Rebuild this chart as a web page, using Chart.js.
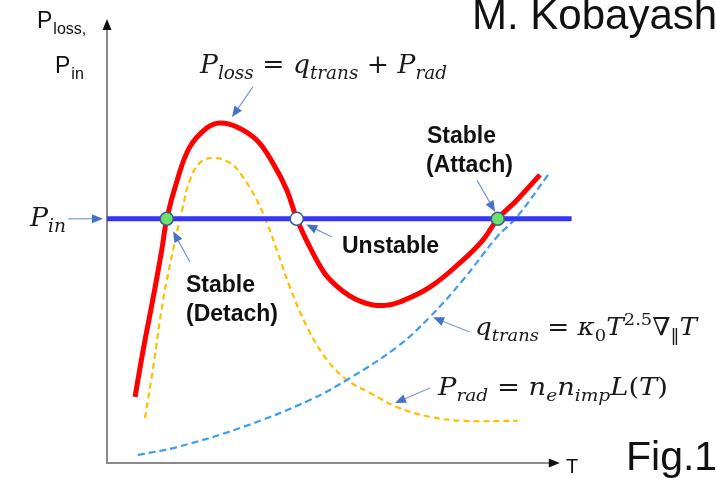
<!DOCTYPE html>
<html>
<head>
<meta charset="utf-8">
<title>P_loss vs T</title>
<script src="https://cdn.jsdelivr.net/npm/chart.js"></script>
<style>
  html, body { margin: 0; padding: 0; background: #fff; }
  #c { display: block; }
</style>
</head>
<body>
<canvas id="c" width="717" height="478"></canvas>
<script>
// Values (T and P in arbitrary units, axes go 0..10)
const lossT = [0.62, 0.80, 1.01, 1.21, 1.32, 1.55, 1.83, 2.21, 2.49, 2.87, 3.31, 3.66, 3.97, 4.19, 4.48, 4.80, 5.08, 5.35, 5.60, 5.87, 6.15, 6.45, 7.13, 7.86, 8.30, 8.63, 9.05, 9.56];
const lossP = [1.49, 2.55, 3.67, 4.80, 5.50, 6.37, 7.12, 7.55, 7.66, 7.57, 7.27, 6.76, 6.15, 5.50, 4.86, 4.28, 3.98, 3.77, 3.64, 3.56, 3.55, 3.62, 3.96, 4.57, 5.02, 5.50, 5.92, 6.49];

const radT = [0.84, 1.02, 1.24, 1.46, 1.66, 1.83, 2.05, 2.34, 2.72, 3.00, 3.31, 3.53, 3.75, 4.04, 4.42, 4.86, 5.30, 5.81, 6.40, 7.13, 7.86, 9.07];
const radP = [1.01, 2.16, 3.67, 4.80, 5.70, 6.37, 6.76, 6.87, 6.76, 6.44, 5.92, 5.41, 4.80, 3.96, 3.06, 2.32, 1.87, 1.58, 1.26, 1.04, 0.95, 0.95];

const transT = [0.68, 1.55, 3.00, 4.48, 5.36, 6.40, 7.13, 7.86, 8.61, 9.05, 9.74];
const transP = [0.18, 0.36, 0.81, 1.42, 1.91, 2.61, 3.29, 4.12, 5.09, 5.54, 6.49];

const PIN = 5.5;
const pinT = [0, 10.26];

// crossing points of P_loss with P_in: stable (detach), unstable, stable (attach)
const crossT = [1.32, 4.19, 8.63];
const crossKind = ['stable', 'unstable', 'stable'];

const pts = (xs, ys) => xs.map((x, i) => ({ x, y: ys[i] }));

// math text helper: runs of {t, s: 'sub'|'sup', up: upright}
function mathText(ctx, runs, x, y, size, width) {
  const fam = '"DejaVu Serif", serif';
  const font = r => (r.up ? '' : 'italic ') + (r.s ? Math.round(size * 0.68) : size) + 'px ' + fam;
  let w = 0;
  runs.forEach(r => { ctx.font = font(r); w += ctx.measureText(r.t).width; });
  const sx = width ? width / w : 1;
  ctx.save();
  ctx.translate(x, y);
  ctx.scale(sx, 1);
  ctx.fillStyle = '#1a1a1a';
  ctx.textBaseline = 'alphabetic';
  let cx = 0;
  runs.forEach(r => {
    ctx.font = font(r);
    const dy = r.s === 'sub' ? size * 0.22 : r.s === 'sup' ? -size * 0.42 : 0;
    ctx.fillText(r.t, cx, dy);
    cx += ctx.measureText(r.t).width;
  });
  ctx.restore();
}

function arrow(ctx, x1, y1, x2, y2) {
  const a = Math.atan2(y2 - y1, x2 - x1);
  const len = 11, half = 4.5;
  ctx.save();
  ctx.strokeStyle = '#7b98d6';
  ctx.lineWidth = 1.2;
  ctx.beginPath();
  ctx.moveTo(x1, y1);
  ctx.lineTo(x2 - Math.cos(a) * len, y2 - Math.sin(a) * len);
  ctx.stroke();
  ctx.fillStyle = '#4472c4';
  ctx.beginPath();
  ctx.moveTo(x2, y2);
  ctx.lineTo(x2 - Math.cos(a) * len - Math.sin(a) * half, y2 - Math.sin(a) * len + Math.cos(a) * half);
  ctx.lineTo(x2 - Math.cos(a) * len + Math.sin(a) * half, y2 - Math.sin(a) * len - Math.cos(a) * half);
  ctx.closePath();
  ctx.fill();
  ctx.restore();
}

// gray axes with black arrow heads
const axesPlugin = {
  id: 'axes',
  beforeDatasetsDraw(chart) {
    const { ctx, scales: { x, y } } = chart;
    const x0 = x.getPixelForValue(0), y0 = y.getPixelForValue(0);
    const yTop = y.getPixelForValue(10), xEnd = x.getPixelForValue(10);
    ctx.save();
    ctx.strokeStyle = '#8a8a8a';
    ctx.lineWidth = 2;
    ctx.beginPath();
    ctx.moveTo(x0, y0); ctx.lineTo(x0, yTop + 8);
    ctx.moveTo(x0 - 1, y0); ctx.lineTo(xEnd - 8, y0);
    ctx.stroke();
    ctx.fillStyle = '#111';
    ctx.beginPath();
    ctx.moveTo(x0, yTop); ctx.lineTo(x0 - 4.5, yTop + 11); ctx.lineTo(x0 + 4.5, yTop + 11);
    ctx.closePath(); ctx.fill();
    ctx.beginPath();
    ctx.moveTo(xEnd, y0); ctx.lineTo(xEnd - 11, y0 - 4.5); ctx.lineTo(xEnd - 11, y0 + 4.5);
    ctx.closePath(); ctx.fill();
    ctx.restore();
  }
};

// labels, formulas and pointer arrows
const notesPlugin = {
  id: 'notes',
  afterDatasetsDraw(chart) {
    const { ctx, scales: { x, y } } = chart;
    const px = v => x.getPixelForValue(v), py = v => y.getPixelForValue(v);
    const arr = (t1, p1, t2, p2) => arrow(ctx, px(t1), py(p1), px(t2), py(p2));

    arr(3.22, 8.47, 2.76, 7.79);   // to P_loss peak
    arr(-0.86, PIN, -0.09, PIN);   // P_in
    arr(1.83, 4.53, 1.46, 5.22);   // stable (detach)
    arr(4.97, 5.09, 4.40, 5.37);   // unstable
    arr(8.17, 6.37, 8.57, 5.66);   // stable (attach)
    arr(8.01, 2.95, 7.20, 3.28);   // q_trans
    arr(7.13, 1.69, 6.36, 1.35);   // P_rad

    ctx.save();
    ctx.fillStyle = '#111';
    ctx.textBaseline = 'alphabetic';

    // y-axis title
    ctx.font = '23px "Liberation Sans", Arial, sans-serif';
    ctx.fillText('P', 37, 28);
    let w = ctx.measureText('P').width;
    ctx.font = '16px "Liberation Sans", Arial, sans-serif';
    ctx.fillText('loss,', 37 + w + 1, 34);
    ctx.font = '23px "Liberation Sans", Arial, sans-serif';
    ctx.fillText('P', 55, 73);
    w = ctx.measureText('P').width;
    ctx.font = '16px "Liberation Sans", Arial, sans-serif';
    ctx.fillText('in', 55 + w + 1, 79);

    // x-axis title
    ctx.font = '20px "Liberation Sans", Arial, sans-serif';
    ctx.fillText('T', 566, 473);

    ctx.font = '42px "Liberation Sans", Arial, sans-serif';
    ctx.fillText('M. Kobayashi', 472, 29);
    ctx.font = '41px "Liberation Sans", Arial, sans-serif';
    ctx.fillText('Fig.1', 626, 470);

    ctx.font = 'bold 23px "Liberation Sans", Arial, sans-serif';
    ctx.fillText('Stable', 427, 143);
    ctx.fillText('(Attach)', 426, 172);
    ctx.fillText('Stable', 186, 292);
    ctx.fillText('(Detach)', 186, 321);
    ctx.fillText('Unstable', 342, 253);
    ctx.restore();

    mathText(ctx, [
      { t: 'P' }, { t: 'loss', s: 'sub' }, { t: ' = ', up: true }, { t: 'q' }, { t: 'trans', s: 'sub' },
      { t: ' + ', up: true }, { t: 'P' }, { t: 'rad', s: 'sub' }
    ], 200, 73, 26, 247);
    mathText(ctx, [{ t: 'P' }, { t: 'in', s: 'sub' }], 30, 226, 26, 36);
    mathText(ctx, [
      { t: 'q' }, { t: 'trans', s: 'sub' }, { t: ' = ', up: true }, { t: 'κ' }, { t: '0', s: 'sub', up: true },
      { t: 'T' }, { t: '2.5', s: 'sup', up: true }, { t: '∇' }, { t: '‖', s: 'sub', up: true }, { t: 'T' }
    ], 475, 335, 25, 222);
    mathText(ctx, [
      { t: 'P' }, { t: 'rad', s: 'sub' }, { t: ' = ', up: true }, { t: 'n' }, { t: 'e', s: 'sub' }, { t: 'n' },
      { t: 'imp', s: 'sub' }, { t: 'L' }, { t: '(', up: true }, { t: 'T' }, { t: ')', up: true }
    ], 438, 395, 25, 230);
  }
};

new Chart(document.getElementById('c'), {
  type: 'line',
  data: {
    datasets: [
      {
        label: 'crossings',
        data: crossT.map(t => ({ x: t, y: PIN })),
        showLine: false,
        pointRadius: 6.5,
        pointBackgroundColor: crossKind.map(k => k === 'stable' ? '#6be36b' : '#ffffff'),
        pointBorderColor: '#3e5b8e',
        pointBorderWidth: 1.5,
        order: 0
      },
      {
        label: 'P_loss',
        data: pts(lossT, lossP),
        borderColor: '#ff0000',
        borderWidth: 5,
        pointRadius: 0,
        tension: 0.4,
        order: 1
      },
      {
        label: 'P_in',
        data: pinT.map(t => ({ x: t, y: PIN })),
        borderColor: '#3535f5',
        borderWidth: 5,
        pointRadius: 0,
        order: 2
      },
      {
        label: 'q_trans',
        data: pts(transT, transP),
        borderColor: '#3d9df2',
        borderWidth: 2.2,
        borderDash: [7, 4],
        pointRadius: 0,
        tension: 0.4,
        order: 3
      },
      {
        label: 'P_rad',
        data: pts(radT, radP),
        borderColor: '#ffbf00',
        borderWidth: 2.2,
        borderDash: [6, 4],
        pointRadius: 0,
        tension: 0.4,
        order: 4
      }
    ]
  },
  options: {
    responsive: false,
    devicePixelRatio: 1,
    animation: false,
    layout: { padding: { left: 107, right: 130, top: 19, bottom: 15 } },
    plugins: { legend: { display: false }, tooltip: { enabled: false } },
    scales: {
      x: { type: 'linear', min: 0, max: 10.6, display: false },
      y: { type: 'linear', min: 0, max: 10, display: false }
    }
  },
  plugins: [axesPlugin, notesPlugin]
});
</script>
</body>
</html>
